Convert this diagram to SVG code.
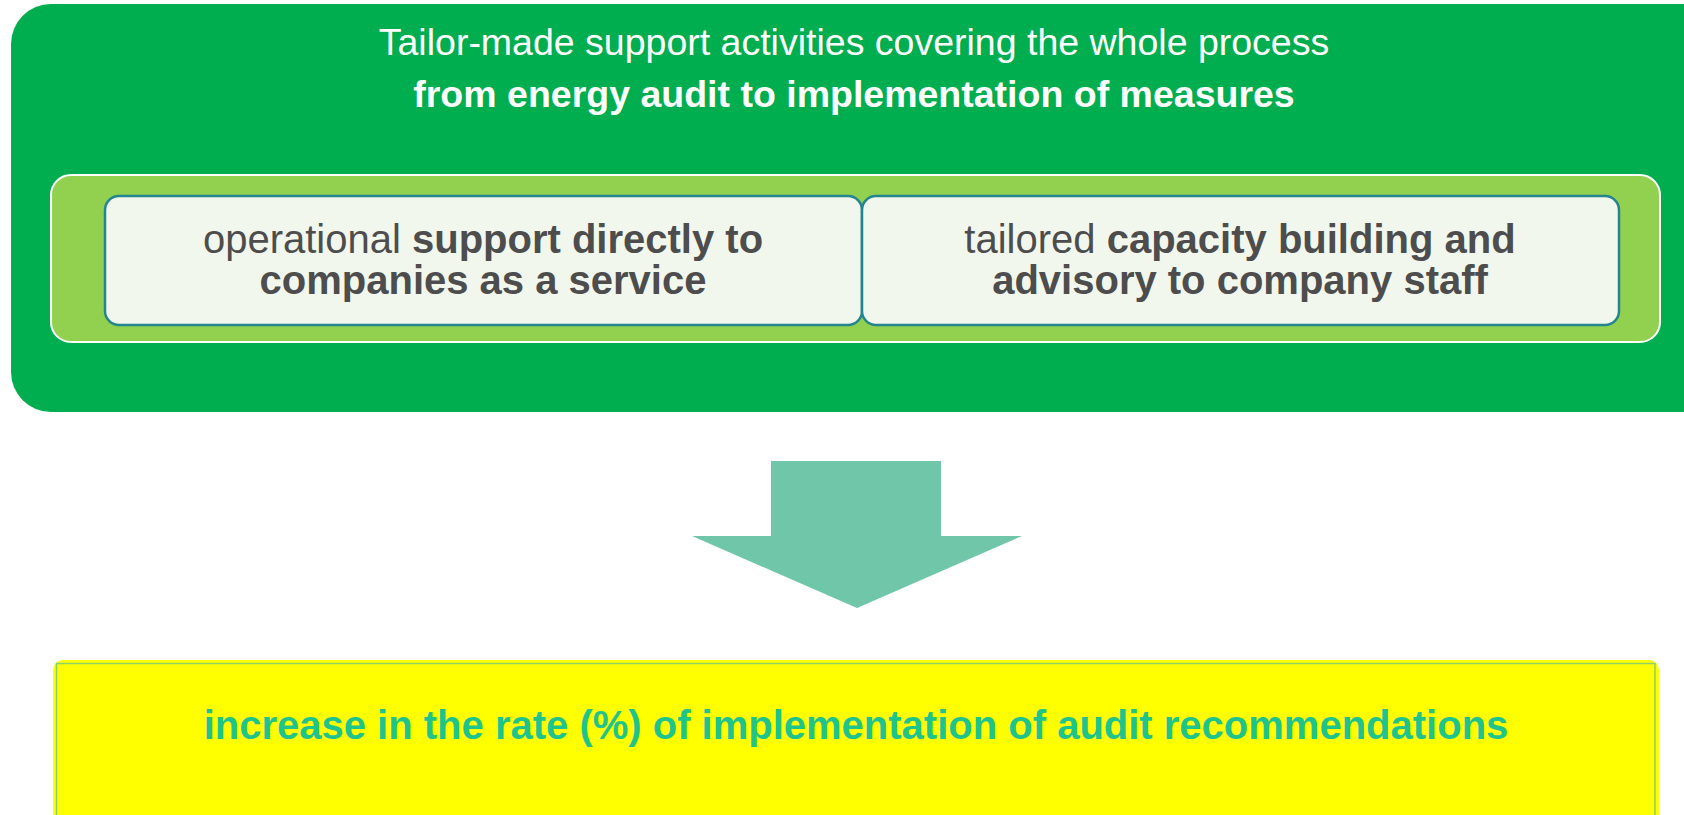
<svg xmlns="http://www.w3.org/2000/svg" width="1684" height="815" viewBox="0 0 1684 815">
<style>
text{font-family:"Liberation Sans",Arial,sans-serif;text-anchor:middle}
.title{fill:#ffffff;font-size:37.5px}
.tb{font-weight:bold}
.box{fill:#f2f7ee;stroke:#23858e;stroke-width:2.5}
.bt{fill:#4d4d4d;font-size:40px}
.res{fill:#1fc48d;font-size:40px;font-weight:bold}
</style>
<rect width="1684" height="815" fill="#ffffff"/>
<g id="container">
<rect x="11" y="4" width="1710" height="408" rx="40" fill="#00ae4f"/>
<text class="title" x="854" y="55">Tailor-made support activities covering the whole process</text>
<text class="title tb" x="854" y="107">from energy audit to implementation of measures</text>
<rect x="51" y="175" width="1609" height="167" rx="20" fill="#92d14f" stroke="#ffffff" stroke-width="2"/>
</g>
<g id="node-operational">
<rect class="box" x="105" y="196" width="757" height="129" rx="14"/>
<text class="bt" x="483" y="253">operational <tspan class="tb">support directly to</tspan></text>
<text class="bt tb" x="483" y="294">companies as a service</text>
</g>
<g id="node-capacity">
<rect class="box" x="862" y="196" width="757" height="129" rx="14"/>
<text class="bt" x="1240" y="253">tailored <tspan class="tb">capacity building and</tspan></text>
<text class="bt tb" x="1240" y="294">advisory to company staff</text>
</g>
<g id="connectors">
<polygon points="771,461 941,461 941,536 1022,536 857,608 692,536 771,536" fill="#70c6a8"/>
</g>
<g id="node-result">
<rect x="53" y="660" width="1606" height="180" rx="10" fill="#ffff00"/>
<rect x="56.5" y="663.5" width="1598.5" height="180" fill="none" stroke="#8fcf6a" stroke-width="1.5"/>
<text class="res" x="856" y="739">increase in the rate (%) of implementation of audit recommendations</text>
</g>
</svg>
